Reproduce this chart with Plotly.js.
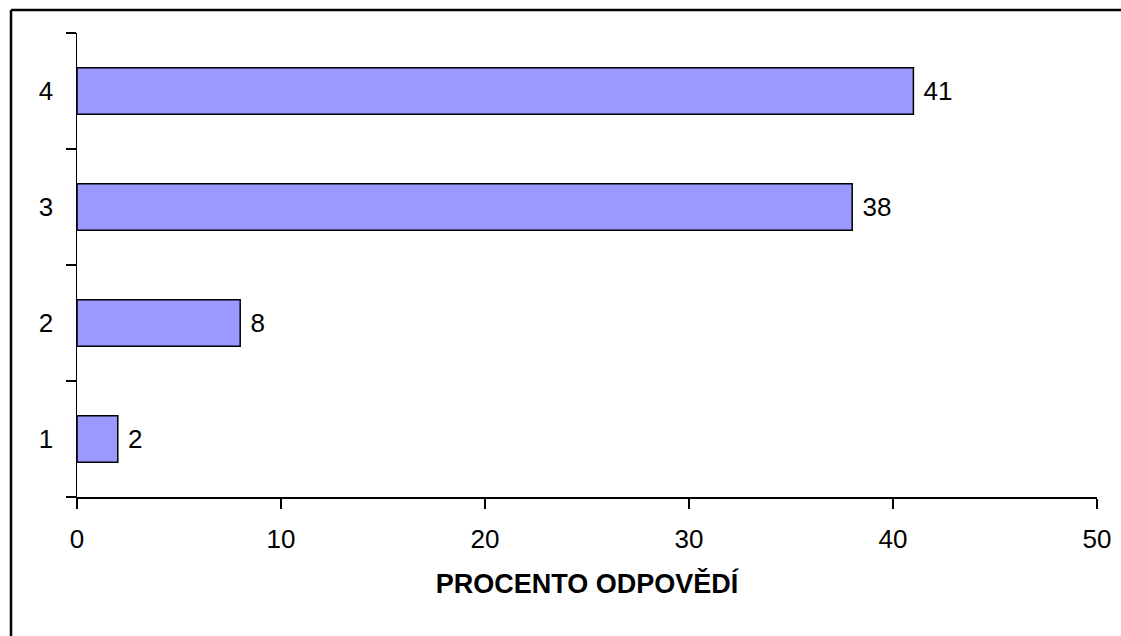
<!DOCTYPE html>
<html>
<head>
<meta charset="utf-8">
<script src="https://cdn.plot.ly/plotly-3.0.1.min.js"></script>
<style>html,body{margin:0;padding:0;background:#fff;overflow:hidden;}#chart{width:1121px;height:636px;}</style>
</head>
<body>
<div id="chart"></div>
<script>
var categories = ["1", "2", "3", "4"];
var values = [2, 8, 38, 41];
var xTickValues = [0, 10, 20, 30, 40, 50];
var xAxisTitle = "PROCENTO ODPOVĚDÍ";

var trace = {
  type: "bar",
  orientation: "h",
  y: categories,
  x: values,
  width: 0.4,
  marker: {color: "#9999FF", line: {color: "#000000", width: 1.5}},
  texttemplate: " %{x}",
  textposition: "outside",
  textfont: {family: "Liberation Sans, Arial, sans-serif", size: 26, color: "#000"},
  cliponaxis: false,
  hoverinfo: "none"
};

var layout = {
  width: 1121,
  height: 636,
  margin: {l: 77, r: 24, t: 33, b: 139},
  paper_bgcolor: "#fff",
  plot_bgcolor: "#fff",
  showlegend: false,
  font: {family: "Liberation Sans, Arial, sans-serif", size: 26, color: "#000"},
  xaxis: {
    range: [0, 50],
    tickvals: xTickValues,
    ticks: "outside",
    ticklen: 10,
    tickwidth: 1.5,
    tickcolor: "#000",
    showline: true,
    linecolor: "#000",
    linewidth: 1.5,
    showgrid: false,
    zeroline: false,
    ticklabelstandoff: 8,
    tickfont: {size: 26},
    title: {text: xAxisTitle, font: {size: 27, weight: "bold"}, standoff: 21}
  },
  yaxis: {
    type: "category",
    categoryorder: "array",
    categoryarray: categories,
    range: [-0.5, 3.5],
    ticks: "outside",
    tickson: "boundaries",
    ticklen: 10,
    tickwidth: 1.5,
    tickcolor: "#000",
    showline: true,
    linecolor: "#000",
    linewidth: 1.5,
    showgrid: false,
    zeroline: false,
    ticklabelstandoff: 17,
    tickfont: {size: 26}
  },
  shapes: [
    {type: "line", xref: "paper", yref: "paper", x0: -0.0647, x1: 1.0235, y0: 1.0496, y1: 1.0496,
     line: {color: "#000", width: 2.5}, layer: "above"},
    {type: "line", xref: "paper", yref: "paper", x0: -0.0647, x1: -0.0647, y0: -0.2996, y1: 1.0496,
     line: {color: "#000", width: 2.5}, layer: "above"}
  ]
};

Plotly.newPlot("chart", [trace], layout, {displayModeBar: false, staticPlot: true});
</script>
</body>
</html>
